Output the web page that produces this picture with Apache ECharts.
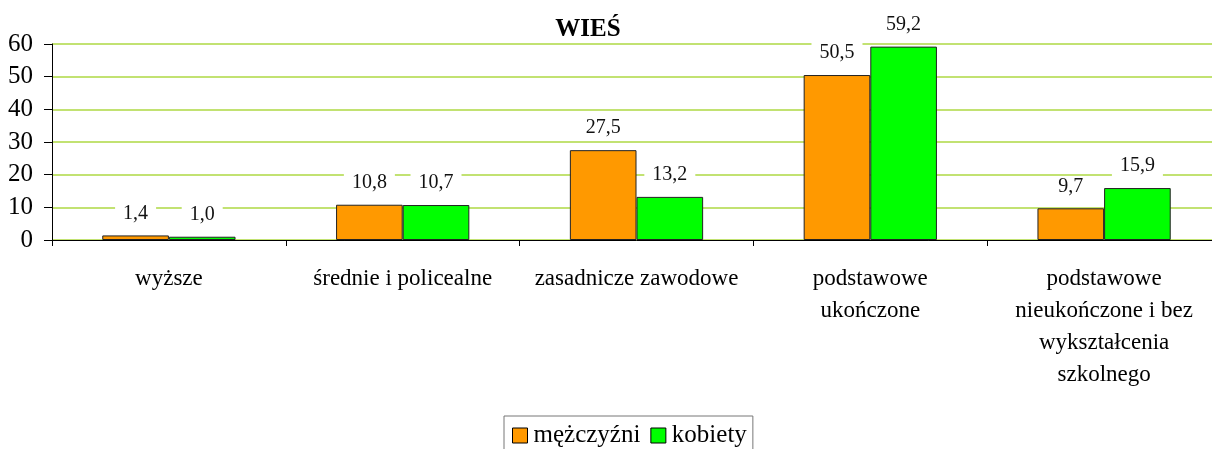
<!DOCTYPE html>
<html><head><meta charset="utf-8">
<script src="https://cdn.jsdelivr.net/npm/echarts@6/dist/echarts.min.js"></script>
<style>html,body{margin:0;padding:0;background:#fff;overflow:hidden;width:1212px;height:449px}#c{width:1230px;height:449px}</style>
</head><body><div id="c"></div>
<script>
const title = 'WIEŚ';
const categories = ['wyższe', 'średnie i policealne', 'zasadnicze zawodowe', 'podstawowe\nukończone', 'podstawowe\nnieukończone i bez\nwykształcenia\nszkolnego'];
const seriesNames = ['mężczyźni', 'kobiety'];
const men = [1.4, 10.8, 27.5, 50.5, 9.7];
const women = [1.0, 10.7, 13.2, 59.2, 15.9];
const yTicks = [0, 10, 20, 30, 40, 50, 60];

const font = '"Liberation Serif", "DejaVu Serif", serif';
const chart = echarts.init(document.getElementById('c'));
const lbl = {
  show: true, position: 'top', distance: 12,
  fontFamily: font, fontSize: 20, color: '#111',
  backgroundColor: '#fff', padding: [0, 8],
  formatter: p => p.value.toFixed(1).replace('.', ',')
};
chart.setOption({
  animation: false,
  title: { text: title, left: 583, top: 12, textAlign: 'center',
    textStyle: { fontFamily: font, fontSize: 25, fontWeight: 'bold', color: '#000' } },
  legend: { top: 416, left: 504, icon: 'rect', itemWidth: 15, itemHeight: 15, itemGap: 10,
    borderColor: '#777', borderWidth: 1, padding: [7, 6, 14, 8],
    itemStyle: { borderColor: '#000', borderWidth: 1 },
    textStyle: { fontFamily: font, fontSize: 25, color: '#000', padding: [0, 0, 0, 1] },
    data: seriesNames },
  grid: { left: 52, top: 44, width: 1169, height: 196, containLabel: false },
  xAxis: { type: 'category', data: categories,
    axisLine: { lineStyle: { color: '#000', width: 1 } },
    axisTick: { show: true, length: 6, lineStyle: { color: '#000' } },
    axisLabel: { fontFamily: font, fontSize: 23, color: '#000', lineHeight: 32, margin: 23, interval: 0 } },
  yAxis: { type: 'value', min: yTicks[0], max: yTicks[yTicks.length - 1], interval: 10,
    axisLine: { show: true, lineStyle: { color: '#000', width: 1 } },
    axisTick: { show: true, length: 8, inside: false, lineStyle: { color: '#000' } },
    axisLabel: { fontFamily: font, fontSize: 25, color: '#000', margin: 19 },
    splitLine: { lineStyle: { color: '#AED843', width: 1.5 } } },
  series: [
    { name: seriesNames[0], type: 'bar', data: men, barGap: '0%', barCategoryGap: '43%',
      itemStyle: { color: '#FF9900', borderColor: '#222', borderWidth: 1 }, label: lbl },
    { name: seriesNames[1], type: 'bar', data: women,
      itemStyle: { color: '#00FF00', borderColor: '#222', borderWidth: 1 }, label: lbl }
  ]
});
</script></body></html>
